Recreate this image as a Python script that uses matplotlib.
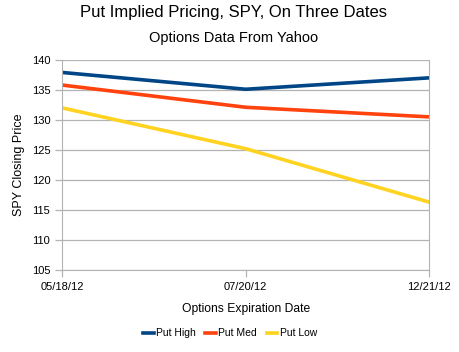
# Put implied pricing on SPY, three expiration dates

import matplotlib
matplotlib.use('Agg')
import matplotlib.pyplot as plt

plt.rcParams['font.family'] = ['Liberation Sans', 'DejaVu Sans']

dates = ['05/18/12', '07/20/12', '12/21/12']
put_high = [137.9, 135.1, 137.0]
put_med = [135.8, 132.1, 130.5]
put_low = [132.0, 125.2, 116.3]

fig = plt.figure(figsize=(4.6, 3.52), dpi=100)
ax = fig.add_axes([0.135, 0.233, 0.798, 0.597])

x = range(len(dates))
ax.plot(x, put_high, color='#004586', linewidth=2.6, label='Put High')
ax.plot(x, put_med, color='#ff420e', linewidth=2.6, label='Put Med')
ax.plot(x, put_low, color='#ffd320', linewidth=2.6, label='Put Low')

ax.set_xlim(0, 2)
ax.set_ylim(105, 140)
ax.set_yticks(range(105, 141, 5))
ax.set_xticks(list(x))
ax.set_xticklabels(dates)

ax.grid(axis='y', color='#b3b3b3', linewidth=0.9)
ax.set_axisbelow(True)
for side in ['left', 'bottom', 'right']:
    ax.spines[side].set_color('#b3b3b3')
ax.spines['top'].set_visible(False)
ax.tick_params(colors='#b3b3b3', labelcolor='black', labelsize=8, length=5, width=0.9)

ax.set_ylabel('SPY Closing Price', fontsize=9, labelpad=5)
ax.set_xlabel('Options Expiration Date', fontsize=8.7, labelpad=8)

fig.text(0.508, 0.965, 'Put Implied Pricing, SPY, On Three Dates', ha='center', va='center', fontsize=12)
fig.text(0.508, 0.893, 'Options Data From Yahoo', ha='center', va='center', fontsize=10.5)

fig.legend(loc='center', bbox_to_anchor=(0.5, 0.053), ncol=3, frameon=False, fontsize=7.5,
           handlelength=1.05, handletextpad=0.2, columnspacing=0.9)

fig.savefig('out.png', dpi=100)
